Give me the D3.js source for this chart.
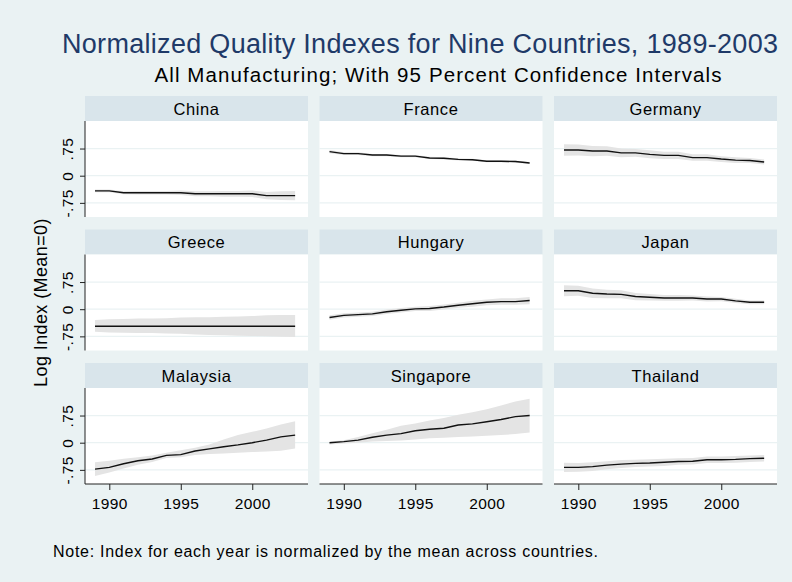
<!DOCTYPE html>
<html>
<head>
<meta charset="utf-8">
<script src="https://cdn.jsdelivr.net/npm/d3@7"></script>
<style>
  body { margin: 0; background: #eaf2f3; }
  svg { display: block; font-family: "Liberation Sans", Arial, sans-serif; }
</style>
</head>
<body>
<div id="chart"></div>
<script>
const years = [1989, 1990, 1991, 1992, 1993, 1994, 1995, 1996, 1997, 1998, 1999, 2000, 2001, 2002, 2003];
const countries = ["China", "France", "Germany", "Greece", "Hungary", "Japan", "Malaysia", "Singapore", "Thailand"];
const xTicks = [1990, 1995, 2000];
const yTicks = [-0.75, 0, 0.75];
const yTickLabels = ["-.75", "0", ".75"];

// index values and 95% CI bounds
const chinaIdx = [-0.42, -0.42, -0.47, -0.47, -0.47, -0.47, -0.47, -0.50, -0.50, -0.50, -0.50, -0.50, -0.55, -0.55, -0.55];
const chinaLo = [-0.46, -0.46, -0.51, -0.52, -0.52, -0.52, -0.53, -0.57, -0.57, -0.58, -0.58, -0.59, -0.65, -0.67, -0.68];
const chinaHi = [-0.38, -0.38, -0.43, -0.42, -0.42, -0.42, -0.41, -0.43, -0.43, -0.42, -0.42, -0.41, -0.45, -0.43, -0.42];

const franceIdx = [0.665, 0.61, 0.61, 0.57, 0.57, 0.54, 0.54, 0.49, 0.48, 0.45, 0.44, 0.40, 0.40, 0.39, 0.35];
const franceLo = [0.62, 0.57, 0.57, 0.54, 0.54, 0.51, 0.51, 0.46, 0.45, 0.42, 0.41, 0.37, 0.37, 0.36, 0.32];
const franceHi = [0.71, 0.65, 0.65, 0.60, 0.60, 0.57, 0.57, 0.52, 0.51, 0.48, 0.47, 0.43, 0.43, 0.42, 0.38];

const germanyIdx = [0.71, 0.71, 0.68, 0.68, 0.63, 0.63, 0.59, 0.56, 0.56, 0.50, 0.50, 0.46, 0.43, 0.42, 0.38];
const germanyLo = [0.55, 0.56, 0.54, 0.55, 0.51, 0.52, 0.48, 0.46, 0.46, 0.41, 0.41, 0.38, 0.35, 0.35, 0.31];
const germanyHi = [0.87, 0.86, 0.82, 0.81, 0.75, 0.74, 0.70, 0.66, 0.66, 0.59, 0.59, 0.54, 0.51, 0.49, 0.45];

const greeceIdx = [-0.47, -0.47, -0.47, -0.47, -0.47, -0.47, -0.47, -0.47, -0.47, -0.47, -0.47, -0.47, -0.47, -0.47, -0.47];
const greeceLo = [-0.62, -0.64, -0.65, -0.66, -0.66, -0.67, -0.68, -0.70, -0.71, -0.72, -0.73, -0.74, -0.75, -0.76, -0.77];
const greeceHi = [-0.30, -0.28, -0.27, -0.26, -0.26, -0.25, -0.23, -0.22, -0.22, -0.21, -0.20, -0.19, -0.17, -0.16, -0.16];

const hungaryIdx = [-0.23, -0.17, -0.15, -0.13, -0.07, -0.03, 0.01, 0.02, 0.06, 0.11, 0.15, 0.19, 0.21, 0.21, 0.24];
const hungaryLo = [-0.29, -0.23, -0.21, -0.19, -0.13, -0.09, -0.05, -0.05, -0.01, 0.04, 0.07, 0.11, 0.12, 0.12, 0.14];
const hungaryHi = [-0.17, -0.11, -0.09, -0.07, -0.01, 0.03, 0.07, 0.09, 0.13, 0.18, 0.23, 0.27, 0.30, 0.30, 0.34];

const japanIdx = [0.51, 0.51, 0.44, 0.42, 0.41, 0.35, 0.33, 0.31, 0.31, 0.31, 0.28, 0.28, 0.23, 0.19, 0.19];
const japanLo = [0.36, 0.37, 0.31, 0.30, 0.30, 0.25, 0.24, 0.23, 0.23, 0.24, 0.21, 0.22, 0.17, 0.14, 0.14];
const japanHi = [0.66, 0.65, 0.57, 0.54, 0.52, 0.45, 0.42, 0.39, 0.39, 0.38, 0.35, 0.34, 0.29, 0.24, 0.24];

const malaysiaIdx = [-0.73, -0.68, -0.58, -0.50, -0.45, -0.35, -0.33, -0.23, -0.17, -0.11, -0.06, 0.00, 0.07, 0.16, 0.21];
const malaysiaLo = [-0.92, -0.82, -0.71, -0.61, -0.53, -0.42, -0.40, -0.34, -0.31, -0.30, -0.28, -0.26, -0.24, -0.22, -0.16];
const malaysiaHi = [-0.54, -0.50, -0.44, -0.40, -0.35, -0.28, -0.21, -0.14, -0.05, 0.09, 0.21, 0.30, 0.39, 0.50, 0.59];

const singaporeIdx = [0.00, 0.03, 0.07, 0.15, 0.21, 0.25, 0.33, 0.37, 0.40, 0.49, 0.52, 0.58, 0.64, 0.72, 0.75];
const singaporeLo = [-0.05, -0.02, 0.00, 0.03, 0.05, 0.06, 0.09, 0.12, 0.14, 0.16, 0.17, 0.19, 0.21, 0.24, 0.28];
const singaporeHi = [0.03, 0.07, 0.16, 0.26, 0.36, 0.47, 0.53, 0.61, 0.68, 0.77, 0.84, 0.92, 1.03, 1.14, 1.21];

const thailandIdx = [-0.68, -0.68, -0.66, -0.62, -0.59, -0.57, -0.56, -0.54, -0.52, -0.51, -0.47, -0.47, -0.46, -0.44, -0.43];
const thailandLo = [-0.81, -0.80, -0.78, -0.73, -0.70, -0.67, -0.66, -0.64, -0.61, -0.60, -0.56, -0.56, -0.55, -0.53, -0.52];
const thailandHi = [-0.55, -0.56, -0.54, -0.51, -0.48, -0.47, -0.46, -0.44, -0.43, -0.42, -0.38, -0.38, -0.37, -0.35, -0.34];

const series = [
    [chinaIdx, chinaLo, chinaHi], [franceIdx, franceLo, franceHi], [germanyIdx, germanyLo, germanyHi],
    [greeceIdx, greeceLo, greeceHi], [hungaryIdx, hungaryLo, hungaryHi], [japanIdx, japanLo, japanHi],
    [malaysiaIdx, malaysiaLo, malaysiaHi], [singaporeIdx, singaporeLo, singaporeHi], [thailandIdx, thailandLo, thailandHi]
];

const panels = countries.map((name, i) => ({
    name: name,
    col: i % 3,
    row: Math.floor(i / 3),
    values: years.map((yr, k) => ({ year: yr, v: series[i][0][k], lo: series[i][1][k], hi: series[i][2][k] }))
}));

const width = 792;
const height = 582;
const plotLeft = 85, plotTop = 121;
const pw = 223, ph = 96;
const colStep = 234.5, rowStep = 133.5;
const stripH = 25;

const x = d3.scaleLinear().domain([1988.3, 2003.9]).range([0, pw]);
const y = d3.scaleLinear().domain([-1.14, 1.51]).range([ph, 0]);

const svg = d3.select("#chart").append("svg")
    .attr("width", width)
    .attr("height", height);

svg.append("rect").attr("width", width).attr("height", height).attr("fill", "#eaf2f3");

// titles
svg.append("text")
    .attr("x", 420).attr("y", 53)
    .attr("text-anchor", "middle")
    .attr("font-size", 27)
    .attr("fill", "#1f3a68")
    .attr("textLength", 716).attr("lengthAdjust", "spacing")
    .text("Normalized Quality Indexes for Nine Countries, 1989-2003");

svg.append("text")
    .attr("x", 438).attr("y", 82)
    .attr("text-anchor", "middle")
    .attr("font-size", 20.5)
    .attr("fill", "#000")
    .attr("textLength", 567).attr("lengthAdjust", "spacing")
    .text("All Manufacturing; With 95 Percent Confidence Intervals");

const area = d3.area()
    .x(d => x(d.year))
    .y0(d => y(d.lo))
    .y1(d => y(d.hi));

const line = d3.line()
    .x(d => x(d.year))
    .y(d => y(d.v));

const panel = svg.selectAll("g.panel")
    .data(panels)
    .join("g")
    .attr("class", "panel")
    .attr("transform", d => `translate(${plotLeft + d.col * colStep},${plotTop + d.row * rowStep})`);

// strip
panel.append("rect")
    .attr("x", 0).attr("y", -stripH)
    .attr("width", pw).attr("height", stripH)
    .attr("fill", "#d9e5eb");

panel.append("text")
    .attr("x", pw / 2).attr("y", -6.5)
    .attr("text-anchor", "middle")
    .attr("font-size", 16.5)
    .attr("letter-spacing", 0.6)
    .attr("fill", "#000")
    .text(d => d.name);

// plot region
panel.append("rect")
    .attr("width", pw).attr("height", ph)
    .attr("fill", "#fff");

panel.selectAll("line.grid")
    .data(yTicks)
    .join("line")
    .attr("class", "grid")
    .attr("x1", 0).attr("x2", pw)
    .attr("y1", d => y(d)).attr("y2", d => y(d))
    .attr("stroke", "#eaf2f3")
    .attr("stroke-width", 1.2);

panel.append("path")
    .attr("d", d => area(d.values))
    .attr("fill", "#e4e4e4");

panel.append("path")
    .attr("d", d => line(d.values))
    .attr("fill", "none")
    .attr("stroke", "#111")
    .attr("stroke-width", 1.4);

// y axes on first column
panel.filter(d => d.col === 0).each(function () {
    const g = d3.select(this).append("g")
        .call(d3.axisLeft(y).tickValues(yTicks).tickSize(5).tickFormat((d, i) => yTickLabels[i]));
    g.select(".domain").attr("d", `M0,0V${ph}`).attr("stroke", "#222");
    g.selectAll(".tick line").attr("stroke", "#222");
    g.selectAll(".tick text")
        .attr("font-size", 15.5)
        .attr("font-family", "Liberation Sans, Arial, sans-serif")
        .attr("letter-spacing", 0.4)
        .attr("fill", "#000")
        .attr("text-anchor", "middle")
        .attr("transform", "rotate(-90)")
        .attr("x", 0).attr("y", -12).attr("dy", 0);
});

// x axes on bottom row
panel.filter(d => d.row === 2).each(function () {
    const g = d3.select(this).append("g")
        .attr("transform", `translate(0,${ph})`)
        .call(d3.axisBottom(x).tickValues(xTicks).tickSize(6).tickFormat(d3.format("d")));
    g.select(".domain").attr("d", `M0,0H${pw}`).attr("stroke", "#222");
    g.selectAll(".tick line").attr("stroke", "#222");
    g.selectAll(".tick text")
        .attr("font-size", 15.5)
        .attr("font-family", "Liberation Sans, Arial, sans-serif")
        .attr("letter-spacing", 0.4)
        .attr("fill", "#000")
        .attr("y", 13.5).attr("dy", "0.71em");
});

// y axis title
svg.append("text")
    .attr("transform", `translate(47,${plotTop + rowStep + ph / 2}) rotate(-90)`)
    .attr("text-anchor", "middle")
    .attr("font-size", 18)
    .attr("letter-spacing", 0.4)
    .attr("fill", "#000")
    .text("Log Index (Mean=0)");

// note
svg.append("text")
    .attr("x", 53).attr("y", 557)
    .attr("font-size", 16)
    .attr("fill", "#000")
    .attr("textLength", 545).attr("lengthAdjust", "spacing")
    .text("Note: Index for each year is normalized by the mean across countries.");
</script>
</body>
</html>
